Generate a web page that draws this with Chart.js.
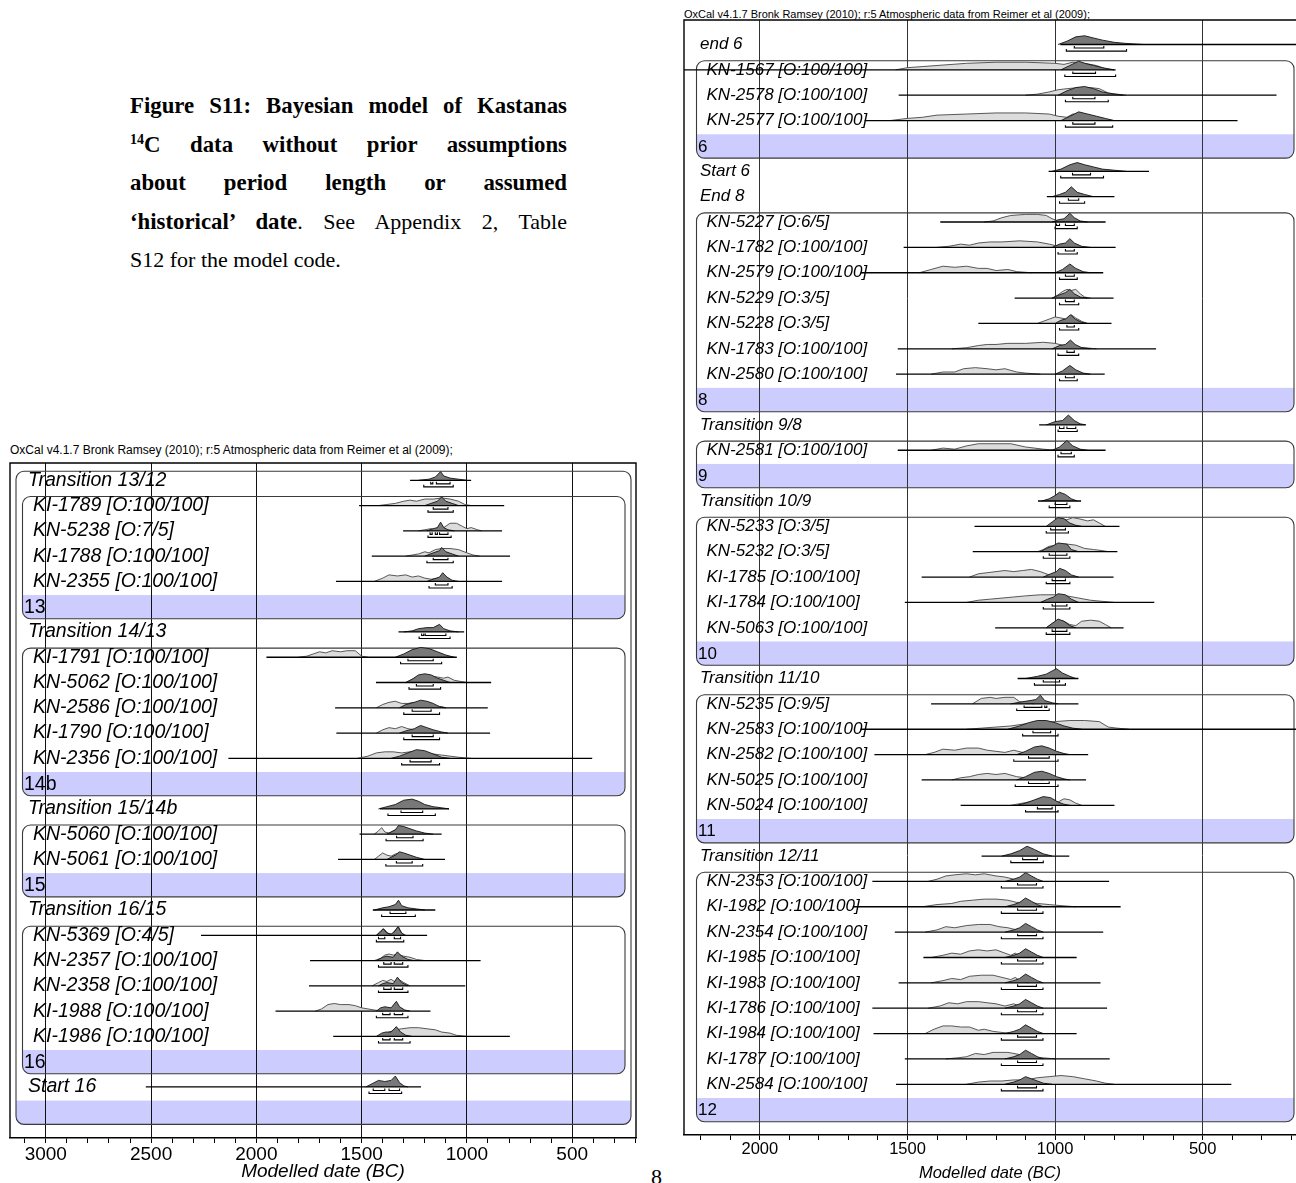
<!DOCTYPE html>
<html>
<head>
<meta charset="utf-8">
<script src="https://cdn.jsdelivr.net/npm/chart.js@4"></script>
<style>
  body { margin: 0; width: 1296px; height: 1183px; position: relative; background: #fff; overflow: hidden; }
  #cap { position: absolute; left: 130px; top: 87px; width: 437px; font-family: "Liberation Serif", serif; font-size: 22px; color: #000; }
  #cap div { height: 38.6px; line-height: 38.6px; white-space: nowrap; }
  #cap .j { text-align: justify; text-align-last: justify; white-space: normal; }
  #cap b { font-size: 22.8px; }
  #cap sup { font-size: 14px; line-height: 0; vertical-align: 8px; }
  .ox { position: absolute; font-family: "Liberation Sans", Arial, sans-serif; color: #000; white-space: nowrap; }
  #pageno { position: absolute; left: 651px; top: 1164px; font-family: "Liberation Serif", serif; font-size: 22px; }
  .wrap { position: absolute; }
</style>
</head>
<body>
<div id="cap">
  <div class="j"><b>Figure S11: Bayesian model of Kastanas</b></div>
  <div class="j"><b><sup>14</sup>C data without prior assumptions</b></div>
  <div class="j"><b>about period length or assumed</b></div>
  <div class="j"><b>‘historical’ date</b>. See Appendix 2, Table</div>
  <div>S12 for the model code.</div>
</div>
<div class="ox" style="left:10px;top:443px;font-size:12px">OxCal v4.1.7 Bronk Ramsey (2010); r:5 Atmospheric data from Reimer et al (2009);</div>
<div class="ox" style="left:684px;top:8px;font-size:11px">OxCal v4.1.7 Bronk Ramsey (2010); r:5 Atmospheric data from Reimer et al (2009);</div>
<div class="wrap" style="left:0;top:440px;width:640px;height:743px"><canvas id="leftChart"></canvas></div>
<div class="wrap" style="left:676px;top:0;width:620px;height:1183px"><canvas id="rightChart"></canvas></div>
<div id="pageno">8</div>
<script>
// ---------- left panel (phases 13 - 16) ----------
const leftLabels = [
  'Transition 13/12', 'KI-1789 [O:100/100]', 'KN-5238 [O:7/5]', 'KI-1788 [O:100/100]', 'KN-2355 [O:100/100]', '13',
  'Transition 14/13', 'KI-1791 [O:100/100]', 'KN-5062 [O:100/100]', 'KN-2586 [O:100/100]', 'KI-1790 [O:100/100]', 'KN-2356 [O:100/100]', '14b',
  'Transition 15/14b', 'KN-5060 [O:100/100]', 'KN-5061 [O:100/100]', '15',
  'Transition 16/15', 'KN-5369 [O:4/5]', 'KN-2357 [O:100/100]', 'KN-2358 [O:100/100]', 'KI-1988 [O:100/100]', 'KI-1986 [O:100/100]', '16',
  'Start 16', ''
];
const leftIndent = [0,1,1,1,1,1, 0,1,1,1,1,1,1, 0,1,1,1, 0,1,1,1,1,1,1, 0,0];
const leftBands = [5, 12, 16, 23, 25];
const leftGroups = [[1, 5], [7, 12], [14, 16], [18, 23]];
const leftOuter = [0, 25];

const leftLineFrom = [1270,1512,1303,1452,1622,null, 1325,1952,1432,1626,1620,2133,null, 1413,1510,1612,null, 1447,2263,1745,1750,1909,1635,null, 2525,null];
const leftLineTo   = [980,823,833,795,833,null, 1013,1048,885,901,890,405,null, 1085,1120,1104,null, 1150,1189,935,1008,1173,796,null, 1218,null];

// [date, height, date, height, ...]
const leftPrior = [
  null,
  [1420,0, 1380,1, 1340,2, 1300,4, 1270,5, 1240,4, 1200,6, 1160,6, 1120,7, 1080,6, 1040,4, 1010,1, 980,0],
  [1230,0, 1200,1, 1170,2, 1150,1, 1130,5, 1110,3, 1080,7, 1050,7, 1020,4, 1000,2, 980,3, 950,1, 930,0],
  [1290,0, 1260,1, 1230,2, 1200,4, 1180,3, 1150,6, 1120,7, 1080,7, 1040,6, 1000,3, 970,1, 940,0],
  [1440,0, 1400,3, 1370,6, 1330,5, 1290,6, 1260,4, 1230,5, 1200,3, 1170,2, 1140,3, 1110,1, 1080,0],
  null,
  null,
  [1800,0, 1760,1, 1730,3, 1700,5, 1670,4, 1640,6, 1600,5, 1570,6, 1530,6, 1500,1, 1470,0],
  [1290,0, 1260,3, 1230,6, 1200,7, 1170,6, 1140,5, 1110,4, 1090,5, 1060,2, 1030,1, 1000,0],
  [1430,0, 1400,3, 1370,5, 1340,6, 1310,4, 1280,4, 1250,5, 1220,3, 1190,4, 1160,2, 1120,1, 1100,0],
  [1430,0, 1400,3, 1370,5, 1340,4, 1310,6, 1280,4, 1250,3, 1220,2, 1190,1, 1150,0],
  [1520,0, 1470,2, 1430,5, 1390,6, 1350,6, 1310,5, 1270,6, 1230,6, 1200,5, 1160,4, 1120,3, 1080,2, 1040,1, 980,0],
  null,
  null,
  [1440,0, 1420,3, 1405,6, 1390,2, 1370,1, 1350,3, 1330,5, 1300,6, 1270,4, 1240,2, 1200,0],
  [1440,0, 1420,3, 1400,6, 1380,4, 1360,3, 1340,5, 1320,6, 1300,4, 1270,2, 1240,1, 1210,0],
  null,
  null,
  [1430,0, 1410,4, 1395,6, 1375,2, 1355,1, 1340,5, 1325,8, 1310,2, 1290,0],
  [1440,0, 1410,2, 1390,5, 1370,6, 1350,5, 1330,6, 1300,4, 1270,3, 1240,1, 1200,0],
  [1450,0, 1420,3, 1400,5, 1380,4, 1360,6, 1345,4, 1325,6, 1300,3, 1270,0],
  [1720,0, 1690,2, 1660,6, 1630,7, 1600,6, 1560,6, 1530,5, 1500,3, 1470,2, 1440,1, 1400,0],
  [1400,0, 1370,4, 1340,6, 1310,7, 1270,8, 1230,8, 1190,7, 1150,6, 1120,4, 1080,3, 1050,1, 1000,0],
  null,
  null,
  null
];
const leftPost = [
  [1230,0, 1180,1, 1150,3, 1125,8, 1110,4, 1080,2, 1040,1, 1000,0],
  [1200,0, 1170,2, 1140,4, 1120,8, 1100,4, 1070,2, 1040,0],
  [1190,0, 1160,2, 1140,3, 1125,8, 1110,3, 1090,1, 1060,0],
  [1200,0, 1160,3, 1130,5, 1120,8, 1100,4, 1070,2, 1040,0],
  [1190,0, 1160,2, 1130,4, 1115,8, 1095,4, 1070,1, 1040,0],
  null,
  [1300,0, 1260,1, 1230,3, 1190,4, 1160,4, 1130,7, 1110,3, 1080,1, 1040,0],
  [1340,0, 1300,3, 1260,7, 1220,9, 1180,8, 1140,5, 1100,2, 1060,0],
  [1290,0, 1260,3, 1230,7, 1200,8, 1170,7, 1140,4, 1110,2, 1080,0],
  [1320,0, 1290,3, 1250,5, 1220,7, 1190,6, 1160,4, 1130,1, 1100,0],
  [1320,0, 1290,2, 1250,4, 1220,7, 1190,5, 1160,3, 1120,1, 1090,0],
  [1360,0, 1320,2, 1280,5, 1240,8, 1200,7, 1160,4, 1120,1, 1080,0],
  null,
  [1420,0, 1380,2, 1340,4, 1300,8, 1260,9, 1230,7, 1200,4, 1160,2, 1120,1, 1085,0],
  [1380,0, 1360,2, 1340,4, 1325,8, 1300,7, 1270,5, 1240,3, 1200,1, 1160,0],
  [1380,0, 1360,2, 1340,4, 1320,7, 1300,6, 1270,4, 1240,2, 1200,0],
  null,
  [1440,0, 1400,2, 1370,3, 1340,5, 1325,9, 1310,4, 1280,2, 1240,1, 1200,0],
  [1430,0, 1410,3, 1398,6, 1380,2, 1360,1, 1340,4, 1328,8, 1310,2, 1295,0],
  [1430,0, 1400,3, 1380,4, 1350,3, 1330,8, 1310,4, 1280,1, 1250,0],
  [1420,0, 1400,2, 1380,3, 1350,2, 1330,8, 1310,3, 1280,0],
  [1430,0, 1410,3, 1390,4, 1360,3, 1335,9, 1320,4, 1295,1, 1270,0],
  [1430,0, 1405,3, 1385,4, 1360,4, 1335,9, 1315,4, 1290,1, 1260,0],
  null,
  [1480,0, 1450,3, 1420,6, 1390,5, 1360,6, 1340,10, 1320,4, 1300,1, 1280,0],
  null
];
const leftR68 = [
  [[1172,1162],[1145,1080]], [[1160,1090]], [[1175,1165],[1150,1140],[1130,1090]], [[1160,1090]], [[1150,1090]], [],
  [[1215,1205],[1198,1100]], [[1280,1160]], [[1240,1160]], [[1260,1170]], [[1260,1160]], [[1270,1170]], [],
  [[1313,1210]], [[1334,1256]], [[1335,1260]], [],
  [[1365,1290]], [[1420,1390],[1345,1315]], [[1395,1360],[1345,1305]], [[1395,1360],[1345,1305]], [[1400,1365],[1345,1305]], [[1400,1365],[1345,1305]], [],
  [[1445,1390],[1370,1320]], []
];
const leftR95 = [
  [[1205,1065]], [[1185,1065]], [[1185,1075]], [[1190,1065]], [[1180,1070]], [],
  [[1227,1080]], [[1315,1120]], [[1275,1125]], [[1300,1130]], [[1300,1130]], [[1310,1130]], [],
  [[1375,1150]], [[1384,1208]], [[1385,1210]], [],
  [[1405,1245]], [[1430,1300]], [[1420,1280]], [[1420,1280]], [[1430,1280]], [[1420,1270]], [],
  [[1465,1310]], []
];

// ---------- right panel (phases 6 - 12) ----------
const rightLabels = [
  'end 6', 'KN-1567 [O:100/100]', 'KN-2578 [O:100/100]', 'KN-2577 [O:100/100]', '6',
  'Start 6', 'End 8',
  'KN-5227 [O:6/5]', 'KN-1782 [O:100/100]', 'KN-2579 [O:100/100]', 'KN-5229 [O:3/5]', 'KN-5228 [O:3/5]', 'KN-1783 [O:100/100]', 'KN-2580 [O:100/100]', '8',
  'Transition 9/8', 'KN-2581 [O:100/100]', '9',
  'Transition 10/9', 'KN-5233 [O:3/5]', 'KN-5232 [O:3/5]', 'KI-1785 [O:100/100]', 'KI-1784 [O:100/100]', 'KN-5063 [O:100/100]', '10',
  'Transition 11/10', 'KN-5235 [O:9/5]', 'KN-2583 [O:100/100]', 'KN-2582 [O:100/100]', 'KN-5025 [O:100/100]', 'KN-5024 [O:100/100]', '11',
  'Transition 12/11', 'KN-2353 [O:100/100]', 'KI-1982 [O:100/100]', 'KN-2354 [O:100/100]', 'KI-1985 [O:100/100]', 'KI-1983 [O:100/100]',
  'KI-1786 [O:100/100]', 'KI-1984 [O:100/100]', 'KI-1787 [O:100/100]', 'KN-2584 [O:100/100]', '12'
];
const rightIndent = [0,1,1,1,1, 0,0, 1,1,1,1,1,1,1,1, 0,1,1, 0,1,1,1,1,1,1, 0,1,1,1,1,1,1, 0,1,1,1,1,1,1,1,1,1,1];
const rightBands = [4, 14, 17, 24, 31, 42];
const rightGroups = [[1, 4], [7, 14], [16, 17], [19, 24], [26, 31], [33, 42]];

const rightLineFrom = [982,2400,1530,1645,null, 1022,1028, 1389,1513,1659,1137,1260,1533,1539,null, 1054,1533,null,
  1058,1273,1279,1452,1509,1203,null, 1127,1420,1659,1612,1452,1320,null, 1249,1619,1685,1543,1446,1530,1619,1615,1509,1539,null];
const rightLineTo = [100,795,250,382,null, 682,799, 829,795,837,802,809,658,832,null, 897,829,null,
  912,782,789,802,664,768,null, 921,921,100,888,895,799,null, 952,817,778,837,927,846,824,927,815,403,null];

const rightPrior = [
  null,
  [1540,0, 1500,2, 1450,3, 1400,4, 1300,6, 1200,7, 1100,7, 1000,6, 970,5, 940,7, 900,6, 860,4, 830,1, 800,0],
  [1100,0, 1060,1, 1020,3, 990,5, 960,6, 920,7, 880,7, 850,6, 820,2, 790,1, 760,0],
  [1560,0, 1500,2, 1450,3, 1400,5, 1300,6, 1200,7, 1100,7, 1020,6, 990,4, 960,3, 940,6, 900,5, 860,3, 830,1, 800,0],
  null,
  null,
  null,
  [1240,0, 1210,1, 1180,4, 1150,6, 1100,7, 1060,7, 1030,6, 1010,3, 990,1, 960,2, 930,0],
  [1400,0, 1360,1, 1320,3, 1290,2, 1260,4, 1220,5, 1180,5, 1120,6, 1060,5, 1020,3, 990,1, 960,0],
  [1460,0, 1420,3, 1380,6, 1340,5, 1300,6, 1260,4, 1230,4, 1200,2, 1160,3, 1130,1, 1080,0],
  [1010,0, 990,3, 975,6, 960,8, 945,7, 930,8, 915,4, 900,1, 880,0],
  [1060,0, 1040,2, 1020,4, 1000,6, 980,5, 960,4, 945,8, 930,5, 910,2, 890,0],
  [1350,0, 1300,1, 1260,3, 1230,4, 1200,4, 1160,5, 1100,5, 1040,6, 1000,5, 970,3, 940,2, 900,1, 860,0],
  [1420,0, 1380,2, 1340,2, 1310,5, 1270,6, 1230,5, 1200,4, 1170,5, 1130,2, 1100,1, 1050,0],
  null,
  null,
  [1420,0, 1380,2, 1340,1, 1300,4, 1260,6, 1200,6, 1150,6, 1100,3, 1070,2, 1040,1, 1000,0],
  null,
  null,
  [1020,0, 1000,4, 980,7, 960,6, 940,8, 920,7, 890,5, 870,6, 850,3, 830,0],
  [1060,0, 1040,2, 1020,5, 990,6, 960,7, 930,6, 900,3, 870,2, 840,1, 820,0],
  [1290,0, 1260,3, 1230,4, 1200,5, 1170,6, 1140,5, 1110,6, 1080,7, 1050,5, 1020,2, 990,1, 960,0],
  [1300,0, 1260,2, 1220,3, 1180,4, 1140,5, 1100,6, 1050,7, 1000,7, 960,6, 920,4, 880,2, 840,1, 800,0],
  [1030,0, 1010,4, 990,7, 970,6, 950,3, 930,2, 910,6, 880,7, 850,6, 830,3, 810,0],
  null,
  null,
  [1280,0, 1250,5, 1220,6, 1200,5, 1170,6, 1140,6, 1120,2, 1100,1, 1070,0],
  [1300,0, 1250,1, 1200,2, 1150,3, 1100,5, 1050,6, 1000,7, 950,8, 900,8, 850,7, 820,2, 790,1, 750,0],
  [1440,0, 1410,2, 1380,5, 1340,4, 1300,6, 1260,6, 1230,4, 1200,3, 1170,2, 1140,4, 1110,2, 1080,0],
  [1350,0, 1320,2, 1290,3, 1260,5, 1230,6, 1200,5, 1170,6, 1130,3, 1100,2, 1070,1, 1040,0],
  [1150,0, 1110,2, 1070,4, 1040,6, 1010,5, 990,3, 970,6, 950,5, 930,2, 910,0],
  null,
  null,
  [1430,0, 1400,2, 1370,5, 1340,6, 1300,7, 1270,6, 1240,7, 1200,5, 1170,4, 1140,2, 1110,1, 1080,0],
  [1450,0, 1400,2, 1350,3, 1320,5, 1280,6, 1240,7, 1200,7, 1160,6, 1130,4, 1100,4, 1060,3, 1020,2, 980,1, 930,0],
  [1440,0, 1400,2, 1370,5, 1340,4, 1300,6, 1260,7, 1220,7, 1190,5, 1160,4, 1130,2, 1100,1, 1070,0],
  [1420,0, 1380,2, 1350,4, 1320,3, 1290,6, 1260,7, 1230,6, 1200,7, 1170,4, 1150,2, 1135,4, 1120,1, 1090,0],
  [1420,0, 1380,2, 1350,4, 1320,3, 1290,6, 1250,7, 1210,7, 1180,5, 1150,3, 1135,5, 1120,2, 1090,0],
  [1430,0, 1390,2, 1360,5, 1330,4, 1300,6, 1260,6, 1230,5, 1200,4, 1170,2, 1140,4, 1120,2, 1090,0],
  [1440,0, 1410,4, 1380,7, 1350,7, 1320,6, 1290,6, 1260,3, 1240,4, 1210,2, 1180,1, 1140,0],
  [1370,0, 1330,1, 1300,2, 1270,5, 1240,4, 1210,6, 1160,6, 1120,4, 1080,2, 1040,1, 1000,0],
  [1300,0, 1260,2, 1220,3, 1180,3, 1140,4, 1100,4, 1060,6, 1020,7, 980,8, 940,7, 900,5, 860,3, 830,1, 800,0],
  null
];
const rightPost = [
  [990,0, 960,3, 930,7, 900,8, 870,6, 840,4, 800,2, 760,1, 700,0],
  [980,0, 950,4, 920,8, 900,6, 870,4, 840,2, 800,0],
  [990,0, 960,4, 930,7, 900,8, 870,6, 840,3, 800,1, 770,0],
  [980,0, 950,4, 920,8, 890,6, 860,4, 830,2, 800,0],
  null,
  [1010,0, 980,2, 950,6, 925,8, 900,6, 870,4, 840,2, 800,1, 760,0],
  [1010,0, 985,2, 965,4, 945,9, 925,4, 900,2, 870,0],
  [1010,0, 990,2, 970,3, 950,8, 935,4, 915,1, 890,0],
  [1010,0, 985,3, 965,4, 950,8, 935,4, 910,1, 880,0],
  [1000,0, 975,3, 950,8, 930,4, 905,1, 880,0],
  [1010,0, 985,3, 965,5, 950,8, 935,4, 915,1, 890,0],
  [1000,0, 980,3, 965,4, 948,8, 932,4, 910,1, 890,0],
  [1010,0, 985,3, 965,4, 948,8, 932,4, 910,1, 880,0],
  [1000,0, 975,3, 950,8, 930,4, 905,1, 880,0],
  null,
  [1030,0, 1000,3, 975,4, 955,9, 935,4, 915,1, 895,0],
  [1010,0, 985,3, 960,9, 940,4, 915,1, 890,0],
  null,
  [1045,0, 1020,2, 1000,5, 985,8, 965,6, 945,2, 925,0],
  [1030,0, 1010,4, 990,8, 970,7, 950,3, 930,1, 910,0],
  [1050,0, 1030,3, 1010,5, 990,8, 960,7, 945,2, 920,0],
  [1040,0, 1015,3, 995,5, 985,8, 965,6, 945,2, 920,0],
  [1050,0, 1025,3, 1005,5, 990,8, 965,7, 945,3, 920,0],
  [1030,0, 1010,4, 990,8, 970,6, 950,2, 930,0],
  null,
  [1100,0, 1060,2, 1030,4, 1010,7, 995,9, 975,5, 950,2, 930,0],
  [1150,0, 1110,2, 1085,3, 1065,4, 1050,8, 1035,3, 1010,1, 990,0],
  [1160,0, 1120,3, 1090,6, 1060,8, 1030,8, 1000,6, 970,3, 940,1, 910,0],
  [1130,0, 1100,3, 1070,7, 1045,8, 1020,6, 995,3, 970,1, 950,0],
  [1130,0, 1100,3, 1070,7, 1045,8, 1020,6, 995,3, 970,1, 950,0],
  [1130,0, 1100,2, 1070,5, 1040,8, 1015,7, 990,3, 970,1, 950,0],
  null,
  [1180,0, 1150,2, 1120,5, 1095,9, 1070,6, 1040,2, 1010,0],
  [1170,0, 1140,2, 1120,4, 1100,8, 1080,5, 1060,2, 1040,0],
  [1170,0, 1140,2, 1120,4, 1100,8, 1080,5, 1060,2, 1040,0],
  [1170,0, 1140,2, 1120,4, 1100,8, 1080,5, 1060,2, 1040,0],
  [1170,0, 1140,2, 1120,4, 1100,8, 1080,5, 1060,2, 1040,0],
  [1170,0, 1140,2, 1120,4, 1100,8, 1080,5, 1060,2, 1040,0],
  [1170,0, 1140,2, 1120,4, 1100,8, 1080,5, 1060,2, 1040,0],
  [1170,0, 1140,2, 1120,4, 1100,8, 1080,5, 1060,2, 1040,0],
  [1170,0, 1140,2, 1120,4, 1100,8, 1080,5, 1060,2, 1040,0],
  [1170,0, 1140,2, 1120,4, 1100,7, 1080,5, 1060,3, 1040,1, 1010,0],
  null
];
const rightR68 = [
  [[935,835]], [[940,863]], [[940,865]], [[940,865]], [],
  [[941,880]], [[955,920]],
  [[995,985],[965,935]], [[965,935]], [[965,935]], [[965,935]], [[960,935]], [[960,935]], [[965,935]], [],
  [[985,970],[960,930]], [[980,945]], [],
  [[1000,960]], [[1015,965]], [[1020,960]], [[1010,965]], [[1010,960]], [[1010,960]], [],
  [[1040,985]], [[1105,1045],[1035,1028]], [[1075,1015]], [[1090,1020]], [[1090,1020]], [[1060,1010]], [],
  [[1110,1060]], [[1127,1063]], [[1127,1063]], [[1127,1063]], [[1127,1063]], [[1127,1063]],
  [[1127,1063]], [[1127,1063]], [[1127,1063]], [[1127,1063]], []
];
const rightR95 = [
  [[962,758]], [[967,795]], [[965,820]], [[965,805]], [],
  [[981,836]], [[985,900]],
  [[1000,925]], [[990,925]], [[985,925]], [[985,920]], [[985,920]], [[990,920]], [[985,925]], [],
  [[990,925]], [[990,935]], [],
  [[1020,950]], [[1030,955]], [[1040,950]], [[1030,950]], [[1040,950]], [[1030,950]], [],
  [[1070,965]], [[1130,1020]], [[1110,990]], [[1140,990]], [[1135,990]], [[1100,990]], [],
  [[1150,1040]], [[1182,1041]], [[1182,1041]], [[1182,1041]], [[1182,1041]], [[1182,1041]],
  [[1182,1041]], [[1182,1041]], [[1182,1041]], [[1182,1041]], []
];

// ---------- drawing ----------
const H = 0.043;          // row units per height step
const B68 = 0.14, B95 = 0.26, CAP = 0.08;
const BOX_TOP = 0.36, BOX_BOTTOM = 0.48, BAND_TOP = 0.46;
const BAND_FILL = 'rgb(204,204,255)';
const PRIOR_FILL = 'rgb(220,220,220)', PRIOR_LINE = 'rgb(70,70,70)';
const POST_FILL = 'rgb(120,120,120)', POST_LINE = 'rgb(20,20,20)';
const FONT = '"Liberation Sans", Arial, sans-serif';

function curve(pts, row) {
  const out = [];
  for (let i = 0; i < pts.length; i += 2) out.push({ x: pts[i], y: row - pts[i + 1] * H });
  return out;
}

function buildDatasets(s) {
  const ds = [];
  const lines = [], marks = [];
  const gap = { x: null, y: null };
  s.labels.forEach((lab, r) => {
    if (s.lineFrom[r] != null) {
      lines.push({ x: s.lineFrom[r], y: r }, { x: s.lineTo[r], y: r }, gap);
    }
    [[s.r68[r], B68], [s.r95[r], B95]].forEach(([ranges, off]) => {
      ranges.forEach(([a, b]) => {
        const y = r + off;
        marks.push({ x: a, y: y - CAP }, { x: a, y }, { x: b, y }, { x: b, y: y - CAP }, gap);
      });
    });
    if (s.prior[r]) ds.push({ data: curve(s.prior[r], r), fill: { value: r }, backgroundColor: PRIOR_FILL,
      borderColor: PRIOR_LINE, borderWidth: 0.9, order: 3 });
    if (s.post[r]) ds.push({ data: curve(s.post[r], r), fill: { value: r }, backgroundColor: POST_FILL,
      borderColor: POST_LINE, borderWidth: 0.9, order: 2 });
  });
  ds.push({ data: lines, borderColor: '#000', borderWidth: 1.3, order: 1 });
  ds.push({ data: marks, borderColor: '#000', borderWidth: 1.1, order: 0 });
  ds.forEach(d => { d.showLine = true; d.pointRadius = 0; d.tension = 0; d.spanGaps = false; });
  return ds;
}

function roundRectPath(ctx, x0, y0, x1, y1, r) {
  ctx.beginPath();
  ctx.moveTo(x0 + r, y0);
  ctx.arcTo(x1, y0, x1, y1, r);
  ctx.arcTo(x1, y1, x0, y1, r);
  ctx.arcTo(x0, y1, x0, y0, r);
  ctx.arcTo(x0, y0, x1, y0, r);
  ctx.closePath();
}

function oxcalPlugin(s) {
  const boxes = () => {
    const list = s.groups.map(g => [g[0], g[1], s.inner[0], s.inner[1]]);
    if (s.outer) list.unshift([s.outer[0], s.outer[1], s.outerInset[0], s.outerInset[1]]);
    return list;
  };
  return {
    id: 'oxcal_' + s.name,
    beforeDraw(chart) {
      const { ctx, chartArea: a } = chart;
      const py = v => chart.scales.y.getPixelForValue(v);
      boxes().forEach(([r0, r1, il, ir]) => {
        const x0 = a.left + il, x1 = a.right - ir;
        const y0 = py(r0 - BOX_TOP), y1 = py(r1 + BOX_BOTTOM), yb = py(r1 - BAND_TOP);
        ctx.save();
        roundRectPath(ctx, x0, y0, x1, y1, 8);
        ctx.clip();
        ctx.fillStyle = BAND_FILL;
        ctx.fillRect(x0, yb, x1 - x0, y1 - yb);
        ctx.restore();
      });
    },
    beforeDatasetsDraw(chart) {
      const { ctx, chartArea: a } = chart;
      const py = v => chart.scales.y.getPixelForValue(v);
      ctx.save();
      ctx.strokeStyle = '#3a3a3a';
      ctx.lineWidth = 1.1;
      boxes().forEach(([r0, r1, il, ir]) => {
        roundRectPath(ctx, a.left + il, py(r0 - BOX_TOP), a.right - ir, py(r1 + BOX_BOTTOM), 8);
        ctx.stroke();
      });
      ctx.fillStyle = '#000';
      ctx.textBaseline = 'middle';
      s.labels.forEach((t, r) => {
        if (!t) return;
        const band = s.bands.includes(r);
        ctx.font = (band ? '' : 'italic ') + s.fontSize + 'px ' + FONT;
        const x = a.left + (band ? s.bandX : (s.indent[r] ? s.x1 : s.x0));
        ctx.fillText(t, x, py(r) + (band ? 1 : 0));
      });
      ctx.restore();
    },
    afterDraw(chart) {
      const { ctx, chartArea: a } = chart;
      ctx.save();
      ctx.strokeStyle = '#000';
      ctx.lineWidth = 1.4;
      ctx.beginPath();
      ctx.moveTo(a.left, a.bottom);
      ctx.lineTo(a.left, a.top);
      ctx.lineTo(a.right, a.top);
      if (s.closeRight) ctx.lineTo(a.right, a.bottom);
      ctx.stroke();
      ctx.restore();
    }
  };
}

function makeChart(id, s) {
  return new Chart(document.getElementById(id), {
    type: 'scatter',
    data: { datasets: buildDatasets(s) },
    options: {
      responsive: true,
      maintainAspectRatio: false,
      animation: false,
      events: [],
      layout: { padding: s.padding },
      plugins: { legend: { display: false }, tooltip: { enabled: false } },
      scales: {
        x: {
          type: 'linear', reverse: true, min: s.xMin, max: s.xMax, offset: false,
          afterFit: scale => { scale.height = s.axisH; },
          ticks: {
            stepSize: 100, includeBounds: false, autoSkip: false, maxRotation: 0, minRotation: 0, padding: 0,
            color: '#000', font: { family: FONT, size: s.fontSize - 0.5 },
            callback: v => (v % 500 === 0 ? String(v) : '')
          },
          grid: {
            color: c => (c.tick && c.tick.value % 500 === 0 ? s.gridColor : 'rgba(0,0,0,0)'),
            tickColor: '#000', tickLength: 5, lineWidth: 1
          },
          border: { display: true, color: '#000', width: 1.4 },
          title: {
            display: true, text: 'Modelled date (BC)', color: '#000', padding: { top: 0, bottom: 0 },
            font: { family: FONT, size: s.fontSize - 0.5, style: 'italic' }
          }
        },
        y: { type: 'linear', display: false, reverse: true, min: s.yMin, max: s.yMax }
      }
    },
    plugins: [oxcalPlugin(s)]
  });
}

makeChart('leftChart', {
  name: 'left', labels: leftLabels, indent: leftIndent, bands: leftBands, groups: leftGroups, outer: leftOuter,
  lineFrom: leftLineFrom, lineTo: leftLineTo, prior: leftPrior, post: leftPost, r68: leftR68, r95: leftR95,
  xMin: 197, xMax: 3170, yMin: -0.684, yMax: 26.02,
  padding: { left: 10, right: 4, top: 23, bottom: 0 }, axisH: 45,
  inner: [12.5, 11], outerInset: [6, 5], x0: 18, x1: 23, bandX: 14,
  fontSize: 19.5, gridColor: '#111', closeRight: true
});

makeChart('rightChart', {
  name: 'right', labels: rightLabels, indent: rightIndent, bands: rightBands, groups: rightGroups, outer: null,
  lineFrom: rightLineFrom, lineTo: rightLineTo, prior: rightPrior, post: rightPost, r68: rightR68, r95: rightR95,
  xMin: 184, xMax: 2257, yMin: -0.966, yMax: 43.0,
  padding: { left: 8, right: 0, top: 20, bottom: 0 }, axisH: 48,
  inner: [12.5, 2], x0: 16, x1: 22.5, bandX: 14,
  fontSize: 17, gridColor: '#333', closeRight: false
});
</script>
</body>
</html>
